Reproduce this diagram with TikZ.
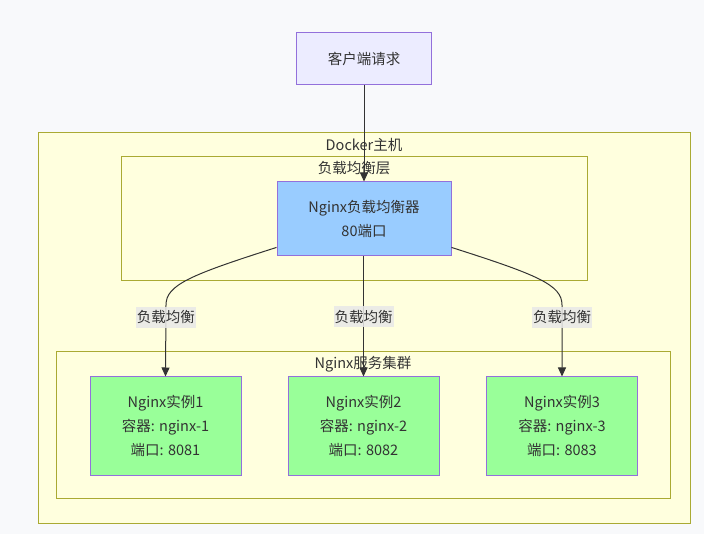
\documentclass[tikz,border=0pt]{standalone}
\usepackage{fontspec}
\setmainfont{Noto Sans CJK SC}
\usetikzlibrary{arrows.meta}
\definecolor{bgcol}{HTML}{F8F9FB}
\definecolor{clfill}{HTML}{FFFFDE}
\definecolor{clline}{HTML}{AAAA33}
\definecolor{nodeline}{HTML}{9370DB}
\definecolor{clientfill}{HTML}{ECECFF}
\definecolor{lbfill}{HTML}{99CCFF}
\definecolor{instfill}{HTML}{99FF99}
\definecolor{txt}{HTML}{333333}
\definecolor{lblbg}{HTML}{E8E8E8}
\tikzset{
  cluster/.style={draw=clline, fill=clfill, line width=1pt},
  ctitle/.style={text=txt, font=\fontsize{14.5}{18}\selectfont, inner sep=0pt},
  box/.style={draw=nodeline, line width=1pt, text=txt, inner sep=0pt, align=center,
    font=\fontsize{14.5}{24}\selectfont},
  arr/.style={draw=txt, line width=1pt, -{Triangle[length=9pt,width=8pt]}},
  lbl/.style={fill=lblbg, fill opacity=0.85, text opacity=1, text=txt, inner xsep=1pt,
    minimum height=21pt, inner ysep=0pt, font=\fontsize{14.5}{18}\selectfont}
}
\begin{document}
\begin{tikzpicture}[x=1pt,y=-1pt]
\fill[bgcol] (0,0) rectangle (704,534);
\useasboundingbox (0,0) rectangle (704,534);
\draw[cluster] (38,133) rectangle (690,523);
\draw[cluster] (121,157) rectangle (587,281);
\draw[cluster] (56,352) rectangle (670,498);
\node[ctitle] (tdocker) at (364,145) {Docker主机};
\node[ctitle] (tlayer) at (354,168) {负载均衡层};
\node[ctitle] (tcluster) at (363,364) {Nginx服务集群};
\node[box, fill=clientfill, minimum width=135pt, minimum height=52pt] (client) at (364,59) {客户端请求};
\node[box, fill=lbfill, minimum width=174pt, minimum height=74pt] (lb) at (364,219) {Nginx负载均衡器\\80端口};
\node[box, fill=instfill, minimum width=151pt, minimum height=98pt] (i1) at (165.5,426) {Nginx实例1\\容器: nginx-1\\端口: 8081};
\node[box, fill=instfill, minimum width=151pt, minimum height=98pt] (i2) at (363.5,426) {Nginx实例2\\容器: nginx-2\\端口: 8082};
\node[box, fill=instfill, minimum width=151pt, minimum height=98pt] (i3) at (562,426) {Nginx实例3\\容器: nginx-3\\端口: 8083};
\draw[arr] (client) -- (client |- lb.north);
\draw[arr] (lb.198) .. controls (190,275) and (166,285) .. (166,305) -- node[lbl, pos=0.17] {负载均衡} (i1.north);
\draw[arr] (lb.south -| i2.north) -- node[lbl, pos=0.5] {负载均衡} (i2.north);
\draw[arr] (lb.342) .. controls (538,275) and (562,285) .. (562,305) -- node[lbl, pos=0.17] {负载均衡} (i3.north);
\end{tikzpicture}
\end{document}
